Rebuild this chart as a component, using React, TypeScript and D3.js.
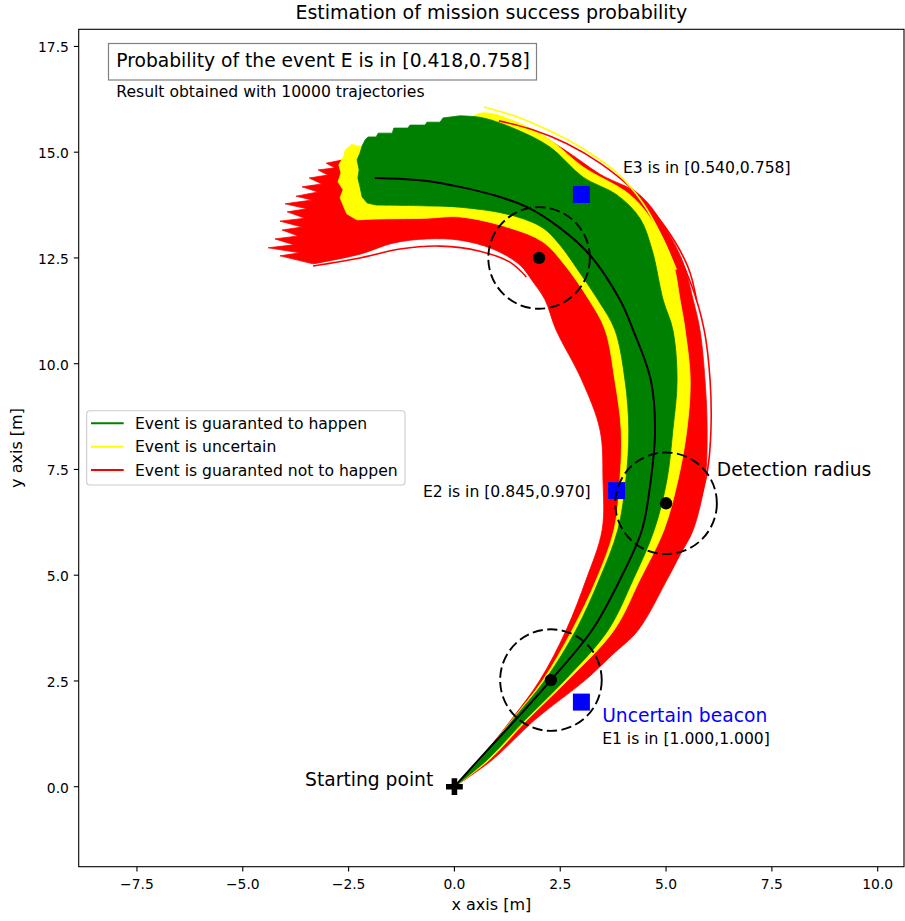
import React, {Component} from 'react'
import * as d3 from 'd3'

type Pt = [number, number]

// axis limits (equal aspect in the original) and ticks
const xLimits = [-8.876, 10.621]
const yLimits = [-1.891, 17.905]
const xTicks = [-7.5, -5.0, -2.5, 0.0, 2.5, 5.0, 7.5, 10.0]
const yTicks = [0.0, 2.5, 5.0, 7.5, 10.0, 12.5, 15.0, 17.5]

// nominal trajectory (black)
const nominal: Pt[] = [[0, 0], [0.72, 0.80], [1.48, 1.62], [2.28, 2.52], [3.25, 3.70], [3.91, 4.89], [4.43, 6.07], [4.64, 7.25], [4.74, 8.43], [4.64, 9.61], [4.22, 10.80], [3.91, 11.51], [3.20, 12.57], [2.49, 13.21], [1.72, 13.70], [0.91, 13.99], [0.13, 14.18], [-0.65, 14.32], [-1.29, 14.37], [-1.88, 14.39]]

// envelope of the red trajectories (event guaranted not to happen)
const redOuter: Pt[] = [[-2.63, 14.82], [-2.18, 15.05], [-1.45, 15.34], [-0.65, 15.48], [0.13, 15.62], [1.01, 15.67], [1.79, 15.53], [2.61, 15.05], [3.44, 14.48], [4.38, 13.99], [4.98, 13.21], [5.40, 12.40], [5.64, 11.51], [5.80, 10.80], [5.92, 9.61], [5.97, 8.43], [5.92, 7.25], [5.64, 6.07], [5.33, 5.48], [5.02, 4.89], [4.34, 3.70], [3.72, 3.11], [3.09, 2.52], [1.90, 1.58], [0.89, 0.63], [0, 0]]
const redInner: Pt[] = [[0, 0], [0.58, 0.63], [1.34, 1.58], [2.02, 2.52], [2.64, 3.70], [3.11, 4.89], [3.49, 6.07], [3.51, 7.25], [3.44, 8.43], [3.01, 9.61], [2.40, 10.80], [2.14, 11.51], [1.86, 11.93], [1.55, 12.33], [0.91, 12.71], [0.13, 12.92], [-0.65, 12.95], [-1.45, 12.85], [-2.23, 12.59], [-3.34, 12.36]]
const redTips: Pt[] = [[-3.34, 12.36], [-4.12, 12.55], [-3.65, 12.62], [-4.40, 12.74], [-3.79, 12.81], [-4.24, 12.95], [-3.69, 13.02], [-4.07, 13.16], [-3.60, 13.23], [-4.12, 13.37], [-3.53, 13.44], [-3.95, 13.59], [-3.48, 13.66], [-4.00, 13.78], [-3.36, 13.87], [-3.74, 13.96], [-3.22, 14.06], [-3.60, 14.18], [-3.13, 14.25], [-3.43, 14.39], [-2.99, 14.46], [-3.22, 14.58], [-2.82, 14.63], [-3.03, 14.74], [-2.63, 14.82]]

// envelope of the yellow trajectories (event uncertain)
const yellowOuter: Pt[] = [[-2.42, 15.19], [-2.04, 15.12], [-1.45, 15.38], [-0.65, 15.53], [0.13, 15.71], [0.68, 15.93], [1.48, 15.71], [2.26, 15.29], [3.04, 14.65], [4.15, 13.99], [4.74, 13.28], [5.16, 12.40], [5.33, 11.51], [5.45, 10.80], [5.57, 9.61], [5.49, 8.43], [5.28, 7.25], [4.95, 6.07], [4.38, 4.89], [3.77, 3.70], [2.68, 2.52], [1.72, 1.58], [0.82, 0.63], [0, 0]]
const yellowInner: Pt[] = [[0, 0], [0.60, 0.63], [1.36, 1.58], [2.09, 2.52], [2.78, 3.70], [3.35, 4.89], [3.77, 6.07], [3.91, 7.25], [3.94, 8.43], [3.79, 9.61], [3.56, 10.80], [3.18, 11.51], [2.61, 12.33], [2.09, 12.88], [1.31, 13.21], [0.13, 13.47], [-0.65, 13.44], [-1.85, 13.42], [-2.30, 13.40]]
const yellowTips: Pt[] = [[-2.30, 13.40], [-2.54, 13.54], [-2.61, 13.70], [-2.70, 13.92], [-2.63, 14.11], [-2.75, 14.30], [-2.68, 14.51], [-2.73, 14.70], [-2.61, 14.91], [-2.58, 15.05], [-2.42, 15.19]]

// envelope of the green trajectories (event guaranted to happen)
const greenTop: Pt[] = [[-2.11, 15.29], [-2.04, 15.36], [-1.85, 15.36], [-1.80, 15.45], [-1.47, 15.45], [-1.43, 15.57], [-1.10, 15.57], [-1.05, 15.64], [-0.69, 15.64], [-0.65, 15.71], [-0.34, 15.71], [-0.27, 15.81], [0.13, 15.86]]
const greenOuter: Pt[] = [[0.13, 15.86], [0.68, 15.81], [1.48, 15.53], [2.26, 15.12], [3.04, 14.41], [3.84, 13.99], [4.38, 13.44], [4.67, 12.69], [4.93, 11.51], [5.16, 10.80], [5.26, 9.61], [5.16, 8.43], [5.02, 7.25], [4.72, 6.07], [4.22, 4.89], [3.63, 3.70], [2.61, 2.52], [1.67, 1.58], [0.77, 0.63], [0, 0]]
const greenInner: Pt[] = [[0, 0], [0.60, 0.63], [1.38, 1.58], [2.14, 2.52], [2.87, 3.70], [3.42, 4.89], [3.86, 6.07], [4.05, 7.25], [4.12, 8.43], [4.03, 9.61], [3.79, 10.80], [3.39, 11.51], [2.92, 12.21], [2.49, 12.81], [2.09, 13.21], [1.31, 13.52], [0.13, 13.70], [-0.65, 13.73], [-1.85, 13.75]]
const greenTips: Pt[] = [[-1.85, 13.75], [-2.06, 13.80], [-2.18, 13.94], [-2.23, 14.18], [-2.28, 14.39], [-2.25, 14.58], [-2.30, 14.82], [-2.23, 14.98], [-2.18, 15.15], [-2.11, 15.29]]

// single trajectories standing apart from the bundle
const strayYellow: Pt[] = [[0.70, 16.07], [1.55, 15.81], [2.26, 15.50], [3.04, 15.08], [3.84, 14.51], [4.45, 13.80], [4.90, 13.00], [5.24, 12.22]]
const strayRed: Pt[] = [[1.05, 15.74], [1.85, 15.53], [2.66, 15.20], [3.44, 14.74], [4.22, 14.11], [4.98, 13.23], [5.52, 12.28], [5.72, 11.51]]
const strayRedOuter: Pt[] = [[4.58, 13.66], [5.15, 12.84], [5.60, 11.86], [5.90, 10.80], [6.04, 9.61], [6.06, 8.43], [5.98, 7.49], [5.74, 6.54], [5.46, 5.83]]
const strayRedInner: Pt[] = [[-3.34, 12.31], [-2.23, 12.50], [-1.29, 12.71], [-0.34, 12.78], [0.60, 12.66], [1.31, 12.40], [1.70, 12.05]]

// beacons and detection zones
const beacons: Pt[] = [[3, 2], [3.83, 7], [3, 14]]
const zoneCenters: Pt[] = [[2.28, 2.52], [5, 6.7], [2, 12.5]]
const detectionRadius = 1.2
const startPoint: Pt = [0, 0]

const legendLabels = ['Event is guaranted to happen', 'Event is uncertain', 'Event is guaranted not to happen']
const legendColors = ['green', 'yellow', 'red']

class App extends Component {
    svgRef = React.createRef<SVGSVGElement>()

    componentDidMount(){
        this.renderChart()
    }

    componentDidUpdate(){
        this.renderChart()
    }

    renderChart(){
        const W = 905, H = 921
        const plot = {left: 78.7, top: 29.3, right: 904, bottom: 866.7}

        const svg = d3.select(this.svgRef.current)
        svg.selectAll('*').remove()
        svg.attr('width', W).attr('height', H)
            .style('font-family', "'DejaVu Sans', sans-serif")

        svg.append('rect').attr('width', W).attr('height', H).attr('fill', 'white')

        const x = d3.scaleLinear().domain(xLimits).range([plot.left, plot.right])
        const y = d3.scaleLinear().domain(yLimits).range([plot.bottom, plot.top])

        svg.append('clipPath').attr('id', 'plot_clip').append('rect')
            .attr('x', plot.left).attr('y', plot.top)
            .attr('width', plot.right - plot.left).attr('height', plot.bottom - plot.top)
        const g = svg.append('g').attr('clip-path', 'url(#plot_clip)')

        const smooth = d3.line<Pt>().x(d => x(d[0])).y(d => y(d[1])).curve(d3.curveCatmullRom)
        const rough = d3.line<Pt>().x(d => x(d[0])).y(d => y(d[1]))
        // join smooth edges and ragged tips into one closed outline
        const envelope = (parts: [Pt[], boolean][]) => parts.map(([pts, isSmooth], i) => {
            const p = (isSmooth ? smooth : rough)(pts) as string
            return i ? p.replace(/^M/, 'L') : p
        }).join('') + 'Z'

        const bands = [
            {color: 'red', parts: [[redOuter, true], [redInner, true], [redTips, false]]},
            {color: 'yellow', parts: [[yellowOuter, true], [yellowInner, true], [yellowTips, false]]},
            {color: 'green', parts: [[greenTop, false], [greenOuter, true], [greenInner, true], [greenTips, false]]}
        ]

        g.selectAll('.band').data(bands).join('path').attr('class', 'band')
            .attr('d', d => envelope(d.parts as [Pt[], boolean][]))
            .attr('fill', d => d.color)
            .attr('stroke', d => d.color)
            .attr('stroke-width', 0.8)
            .attr('stroke-linejoin', 'round')

        const strays = [
            {pts: strayRedOuter, color: 'red'},
            {pts: strayRedInner, color: 'red'},
            {pts: strayRed, color: 'red'},
            {pts: strayYellow, color: 'yellow'}
        ]
        g.selectAll('.stray').data(strays).join('path').attr('class', 'stray')
            .attr('d', d => smooth(d.pts))
            .attr('fill', 'none')
            .attr('stroke', d => d.color)
            .attr('stroke-width', 1.6)

        // nominal trajectory
        g.append('path').attr('d', smooth(nominal))
            .attr('fill', 'none').attr('stroke', 'black').attr('stroke-width', 2)

        // beacons
        const sq = 17
        g.selectAll('.beacon').data(beacons).join('rect').attr('class', 'beacon')
            .attr('x', d => x(d[0]) - sq / 2).attr('y', d => y(d[1]) - sq / 2)
            .attr('width', sq).attr('height', sq).attr('fill', 'blue')

        // detection radius
        const rPx = x(detectionRadius) - x(0)
        g.selectAll('.zone').data(zoneCenters).join('circle').attr('class', 'zone')
            .attr('cx', d => x(d[0])).attr('cy', d => y(d[1])).attr('r', rPx)
            .attr('fill', 'none').attr('stroke', 'black').attr('stroke-width', 1.9)
            .attr('stroke-dasharray', '10.3,4.4')
        g.selectAll('.zone_dot').data(zoneCenters).join('circle').attr('class', 'zone_dot')
            .attr('cx', d => x(d[0])).attr('cy', d => y(d[1])).attr('r', 6.2)
            .attr('fill', 'black')

        // starting point (filled plus)
        const s = 8.4, a = 2.8
        const plus = `M${-a},${-s}H${a}V${-a}H${s}V${a}H${a}V${s}H${-a}V${a}H${-s}V${-a}H${-a}Z`
        g.append('path').attr('d', plus)
            .attr('transform', `translate(${x(startPoint[0])},${y(startPoint[1])})`)
            .attr('fill', 'black')

        // annotations
        const big = '18.7px', small = '15.6px', tickSize = '13.89px', labelSize = '16px'
        const note = (px: number, py: number, txt: string, size: string, anchor = 'start', color = 'black') =>
            svg.append('text').attr('x', px).attr('y', py).attr('text-anchor', anchor)
                .attr('fill', color).style('font-size', size).text(txt)

        note(x(3.98), y(14.5), 'E3 is in [0.540,0.758]', small)
        note(x(3.22), y(6.86), 'E2 is in [0.845,0.970]', small, 'end')
        note(x(3.49), y(1.0), 'E1 is in [1.000,1.000]', small)
        note(x(3.49), y(1.53), 'Uncertain beacon', big, 'start', 'blue')
        note(x(6.2), y(7.35), 'Detection radius', big)
        note(x(-0.5), y(0.02), 'Starting point', big, 'end')

        // result box
        svg.append('rect').attr('x', 108.5).attr('y', 43.5).attr('width', 428).attr('height', 36.5)
            .attr('fill', 'white').attr('stroke', '#808080').attr('stroke-width', 1.2)
        note(116.3, 66.5, 'Probability of the event E is in [0.418,0.758]', big)
        note(116.3, 96.5, 'Result obtained with 10000 trajectories', small)

        // frame
        svg.append('rect').attr('x', plot.left).attr('y', plot.top)
            .attr('width', plot.right - plot.left).attr('height', plot.bottom - plot.top)
            .attr('fill', 'none').attr('stroke', 'black').attr('stroke-width', 1.1)

        // ticks
        const tick = 4.9
        const fmt = (v: number) => v.toFixed(1).replace('-', '\u2212')
        const xt = svg.append('g').selectAll('g').data(xTicks).join('g')
            .attr('transform', d => `translate(${x(d)},${plot.bottom})`)
        xt.append('line').attr('y2', tick).attr('stroke', 'black').attr('stroke-width', 1.1)
        xt.append('text').attr('y', 22.3).attr('text-anchor', 'middle')
            .style('font-size', tickSize).attr('fill', 'black').text(d => fmt(d))

        const yt = svg.append('g').selectAll('g').data(yTicks).join('g')
            .attr('transform', d => `translate(${plot.left},${y(d)})`)
        yt.append('line').attr('x2', -tick).attr('stroke', 'black').attr('stroke-width', 1.1)
        yt.append('text').attr('x', -tick - 4.9).attr('y', 5.9).attr('text-anchor', 'end')
            .style('font-size', tickSize).attr('fill', 'black').text(d => fmt(d))

        // labels
        svg.append('text').attr('x', (plot.left + plot.right) / 2).attr('y', 19)
            .attr('text-anchor', 'middle').style('font-size', '19px')
            .text('Estimation of mission success probability')
        svg.append('text').attr('x', (plot.left + plot.right) / 2).attr('y', 910)
            .attr('text-anchor', 'middle').style('font-size', labelSize).text('x axis [m]')
        svg.append('text').attr('transform', `translate(21.5,${(plot.top + plot.bottom) / 2}) rotate(-90)`)
            .attr('text-anchor', 'middle').style('font-size', labelSize).text('y axis [m]')

        // legend
        const lg = svg.append('g').attr('transform', 'translate(86.7,410.7)')
        lg.append('rect').attr('width', 318.3).attr('height', 74.3).attr('rx', 3)
            .attr('fill', 'white').attr('fill-opacity', 0.8)
            .attr('stroke', '#cccccc').attr('stroke-width', 1.1)
        const rows = lg.selectAll('.legend_row').data(legendLabels).join('g').attr('class', 'legend_row')
            .attr('transform', (d, i) => `translate(0,${12.6 + i * 23.35})`)
        rows.append('line').attr('x1', 4.3).attr('x2', 37).attr('stroke', (d, i) => legendColors[i])
            .attr('stroke-width', 2)
        rows.append('text').attr('x', 48.3).attr('y', 5.8).style('font-size', small).text(d => d)
    }

    render(){
        return (
            <svg ref={this.svgRef} style={{position: 'absolute', left: 0, top: 0}}></svg>
        )
    }
}

export default App
